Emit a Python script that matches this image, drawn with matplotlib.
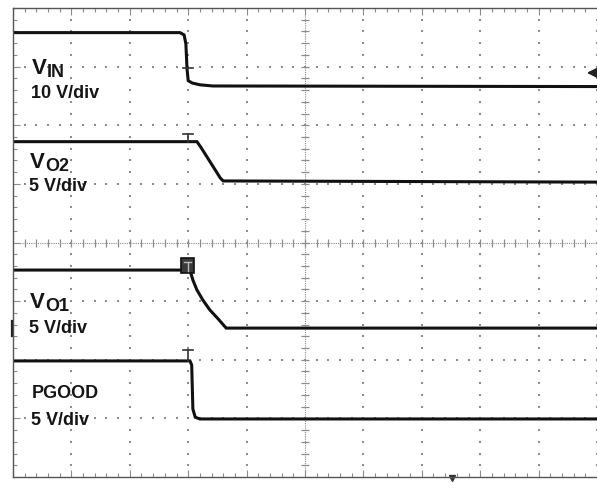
import numpy as np
import matplotlib.pyplot as plt
from matplotlib.patches import Rectangle

plt.rcParams['font.family'] = ['Liberation Sans', 'DejaVu Sans']

# scope traces, in divisions (10 div across, 8 div high)
vin_t = [0, 2.86, 2.93, 2.96, 2.98, 3.00, 3.07, 3.20, 3.42, 10]
vin_y = [7.58, 7.58, 7.54, 7.39, 6.96, 6.76, 6.72, 6.69, 6.67, 6.66]

vo2_t = [0, 3.15, 3.22, 3.55, 3.60, 10]
vo2_y = [5.72, 5.72, 5.62, 5.10, 5.05, 5.03]

vo1_t = [0, 3.03, 3.08, 3.15, 3.25, 3.37, 3.51, 3.65, 10]
vo1_y = [3.53, 3.53, 3.36, 3.19, 3.02, 2.85, 2.70, 2.54, 2.54]

pg_t = [0, 3.03, 3.06, 3.08, 3.12, 3.20, 10]
pg_y = [1.98, 1.98, 1.91, 1.16, 1.02, 0.99, 0.99]

names = ['V', 'V', 'V', 'PGOOD']
subs = ['IN', 'O2', 'O1', '']
scales = ['10 V/div', '5 V/div', '5 V/div', '5 V/div']

W, H = 597, 489
TRACE = '#111111'
GRID = '#8c8c8c'
TXT = '#151515'


def fpx(x, y):
    # pixel -> figure fraction
    return x / W, 1 - y / H


def dpx(x, y):
    # pixel -> division coords
    return (x - 13) / 58.4, (478 - y) / 58.6


fig = plt.figure(figsize=(W / 100, H / 100), dpi=100)
ax = fig.add_axes([13 / W, (H - 478) / H, 584 / W, 469 / H])
ax.set_xlim(0, 10)
ax.set_ylim(0, 8)

# dotted graticule
yy = np.arange(0.2, 8, 0.2)
xx = np.arange(0.2, 10, 0.2)
for k in range(1, 11):
    if k == 5:
        continue
    ax.plot([k] * len(yy), yy, ls='none', marker='s', ms=1.6, mew=0, color=GRID, clip_on=False)
for k in range(1, 8):
    if k == 4:
        continue
    ax.plot(xx, [k] * len(xx), ls='none', marker='s', ms=1.6, mew=0, color=GRID)

# centre cross with ticks
ax.axhline(4, color=GRID, lw=0.8, ls=(0, (1, 1)))
ax.axvline(5, color=GRID, lw=0.8, ls=(0, (1, 1)))
ax.plot(xx, [4] * len(xx), ls='none', marker='|', ms=6, mew=0.9, color=GRID)
ax.plot([5] * len(yy), yy, ls='none', marker='_', ms=6, mew=0.9, color=GRID)

# edge ticks
ax.set_xticks(np.arange(0, 10.01, 1))
ax.set_xticks(np.arange(0, 10.01, 0.2), minor=True)
ax.set_yticks(np.arange(0, 8.01, 1))
ax.set_yticks(np.arange(0, 8.01, 0.2), minor=True)
ax.tick_params(which='both', direction='in', top=True, bottom=True, left=True, right=False,
               labelbottom=False, labelleft=False, color=GRID, width=0.8)
ax.tick_params(which='major', length=5)
ax.tick_params(which='minor', length=3)
for s in ['left', 'top', 'bottom']:
    ax.spines[s].set_color('#555555')
    ax.spines[s].set_linewidth(1.0)
ax.spines['right'].set_visible(False)

# traces
for t, v in [(vin_t, vin_y), (vo2_t, vo2_y), (vo1_t, vo1_y), (pg_t, pg_y)]:
    ax.plot(t, v, color=TRACE, lw=2.2, solid_joinstyle='miter')

# trigger markers
for ytop, ybot in [(69, 69), (135, 143), (351, 362)]:
    x0, y0 = dpx(183, ytop)
    x1, _ = dpx(193, ytop)
    xm, y1 = dpx(188, ybot)
    ax.plot([x0, x1], [y0, y0], color='#333333', lw=1.2)
    ax.plot([xm, xm], [y0, y1], color='#333333', lw=1.2)
bx, by = dpx(181, 274)
bx2, by2 = dpx(194, 259)
ax.add_patch(Rectangle((bx, by), bx2 - bx, by2 - by, facecolor='#3a3a3a', edgecolor='#111111', lw=1.2, zorder=5))
tx0, ty0 = dpx(184, 263)
tx1, _ = dpx(191, 263)
txm, ty1 = dpx(187.5, 272)
ax.plot([tx0, tx1], [ty0, ty0], color='#bbbbbb', lw=1.0, zorder=6)
ax.plot([txm, txm], [ty0, ty1], color='#bbbbbb', lw=1.0, zorder=6)

# ground reference arrow on right edge, channel marker on left
ax.annotate('', xy=dpx(584, 74), xytext=dpx(598, 74),
            arrowprops=dict(arrowstyle='-|>', color='#222222', lw=1.4, mutation_scale=18),
            annotation_clip=False)
lx, ly0 = dpx(12, 322)
_, ly1 = dpx(12, 337)
ax.plot([lx, lx], [ly0, ly1], color='#222222', lw=1.6, clip_on=False)
mx, my = dpx(452, 479)
ax.plot([mx], [my], marker='v', ms=4, color='#333333', clip_on=False)

# channel labels
label_pos = [(32, 74, 98), (30, 168, 191), (30, 308, 333), (32, 398, 425)]
for name, sub, sc, (x, yl, ys) in zip(names, subs, scales, label_pos):
    if sub:
        fig.text(*fpx(x, yl), name, fontsize=16, fontweight='bold', color=TXT, va='baseline', ha='left')
        fig.text(*fpx(x + 15, yl + 3), sub, fontsize=13, fontweight='bold', color=TXT, va='baseline', ha='left')
    else:
        fig.text(*fpx(x, yl), name, fontsize=13, fontweight='bold', color=TXT, va='baseline', ha='left')
    fig.text(*fpx(x - 1, ys), sc, fontsize=13, fontweight='bold', color=TXT, va='baseline', ha='left')

fig.savefig('out.png', dpi=100)
